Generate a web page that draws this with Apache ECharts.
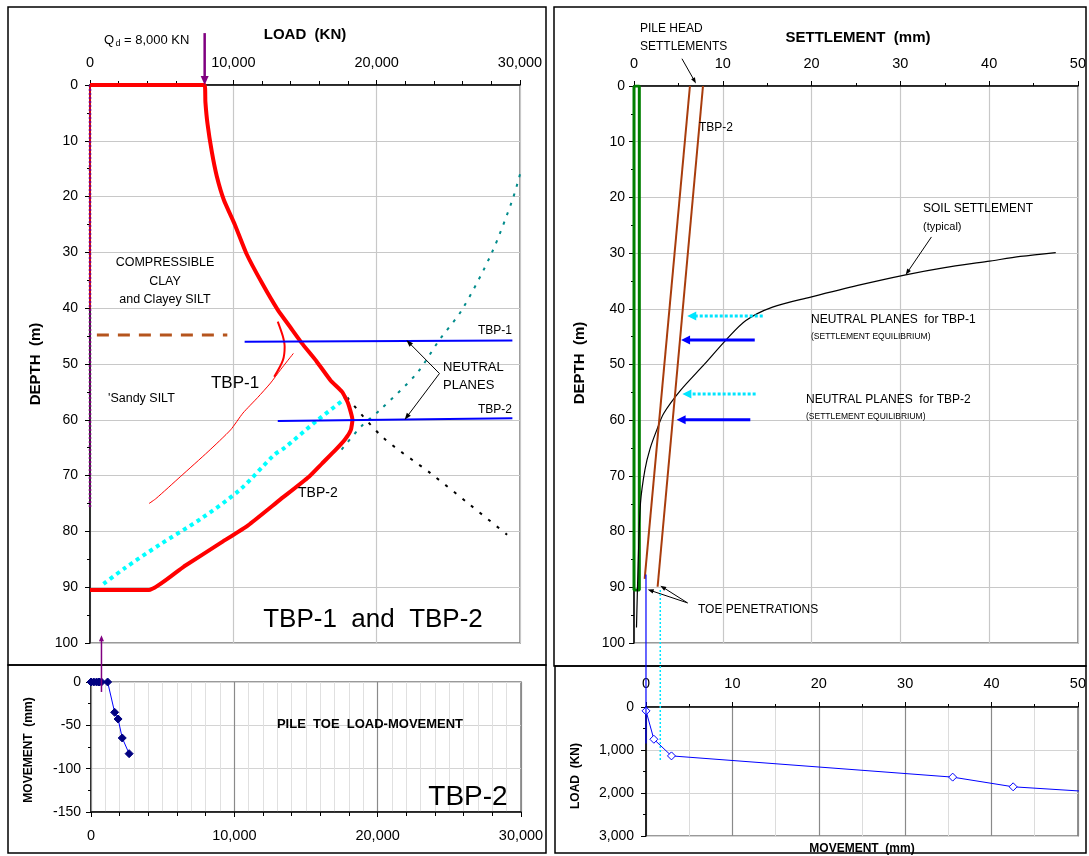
<!DOCTYPE html>
<html>
<head>
<meta charset="utf-8">
<script src="https://cdn.jsdelivr.net/npm/echarts@6.0.0/dist/echarts.min.js"></script>
<style>
html,body{margin:0;padding:0;background:#fff;}
#chart{width:1089px;height:856px;}
</style>
</head>
<body>
<div id="chart"></div>
<script>
// ---------------- DATA ----------------
// Axis ranges [min, max, interval]
const LOAD_AXIS = [0, 30000, 10000];
const DEPTH_AXIS = [0, 100, 10];
const SETTLE_AXIS = [0, 50, 10];
const TOE_MOVE_AXIS = [-150, 0, 50];
const LM_LOAD_AXIS = [0, 3000, 1000];

// Panel A: load (KN) vs depth (m)
const loadDepthTBP2 = [[0,0],[8000,0],[8050,3],[8200,7],[8500,12],[8850,16.4],[9340,20.6],[10100,25],[10910,30.2],[12000,35.5],[13100,40.3],[14000,43.5],[14790,46.3],[15800,49.5],[16800,53],[17590,55],[18000,57],[18310,60],[18200,61.8],[17800,63.5],[17100,65.5],[16200,67.8],[15280,70.2],[13220,74.4],[11030,78.9],[9090,82.1],[6550,86.3],[4120,90.5],[0,90.5]];
const loadDepthTBP1a = [[13100,42.4],[13450,45],[13580,46.9],[13460,49.3],[12850,52.3]];
const loadDepthTBP1b = [[14190,48.1],[13300,51],[12600,53.4],[11700,56],[10670,58.8],[9810,61.8],[8240,65.7],[6300,70.2],[4610,74.1],[4120,75]];
const resistanceTeal = [[30000,16],[29470,20.6],[28010,30.2],[25950,40.3],[24370,45.7],[22790,51.7],[20250,58.2],[18920,61.2],[17500,65.5]];
const resistanceCyan = [[17950,55.9],[15760,60.3],[13580,65],[12850,66.3],[10430,72.6],[7760,77.7],[4850,82.4],[2420,86.6],[845,89.6]];
const resistanceBlack = [[17950,56],[20370,63],[23770,69.6],[26500,75.2],[29100,80.6]];
const zeroRed = [[0,0],[0,40]];
const zeroPurple = [[0,0],[0,75.8]];
const layerBoundary = [[480,44.8],[9580,44.8]];
const neutralPlaneTBP1 = [[10790,46.0],[29470,45.8]];
const neutralPlaneTBP2 = [[13100,60.2],[29470,59.7]];

// Panel B: settlement (mm) vs depth (m)
const pileGreen = [[0,0],[0.6,0],[0.6,90.5],[0,90.5],[0,0]];
const soilSettlement = [[47.5,29.9],[43.5,30.6],[39.8,31.5],[35,32.6],[30.6,33.9],[25.2,35.8],[19.9,37.9],[15.6,39.7],[12.6,42.1],[10.3,45.7],[7.96,49.9],[5.26,54.6],[3.34,58.8],[2.58,61.7],[1.81,65.1],[1.23,68.9],[0.73,74.9],[0.47,85.6],[0.28,97.2]];
const pileHeadA = [[6.3,0],[1.2,88.5]];
const pileHeadB = [[7.77,0],[2.66,89.9]];

// Panel C: pile toe load (KN) vs movement (mm)
const toeLoad = [0,190,390,560,730,1160,1650,1890,2180,2660];
const toeMove = [0,0,0,0,0,0,-35,-42.7,-64.6,-82.7];

// Panel D: movement (mm) vs load (KN)
const lmMovement = [0.0,0.91,2.95,35.5,42.5,50.4];
const lmLoad = [90,750,1137,1631,1856,1956];

// ---------------- CHART ----------------
const FONT = 'Arial, "Liberation Sans", sans-serif';
const chart = echarts.init(document.getElementById('chart'));

function lineSeries(data, xi, yi, color, width, type, extra) {
  return Object.assign({
    type: 'line', xAxisIndex: xi, yAxisIndex: yi, data: data,
    showSymbol: false, symbol: 'none', animation: false, silent: true,
    lineStyle: { color: color, width: width, type: type || 'solid', cap: 'butt' }
  }, extra || {});
}

function valAxis(o) {
  return Object.assign({
    type: 'value',
    axisLine: { show: true, onZero: false, lineStyle: { color: '#000', width: 1.5 } },
    axisTick: { show: true, length: 5, lineStyle: { color: '#000' } },
    minorTick: { show: true, splitNumber: 2, length: 3, lineStyle: { color: '#000' } },
    axisLabel: { color: '#000', fontSize: 14, fontFamily: FONT },
    splitLine: { show: true, lineStyle: { color: '#c8c8c8', width: 1.2 } }
  }, o);
}

const gridStyle = { show: true, borderColor: '#7a7a7a', borderWidth: 1.5, backgroundColor: 'transparent', containLabel: false };

const option = {
  animation: false,
  backgroundColor: '#fff',
  grid: [
    Object.assign({ left: 90, top: 85, width: 430, height: 558 }, gridStyle),
    Object.assign({ left: 634, top: 86, width: 447, height: 557 }, gridStyle),
    Object.assign({ left: 91, top: 682, width: 430, height: 130 }, gridStyle),
    Object.assign({ left: 646, top: 707, width: 435, height: 129 }, gridStyle)
  ],
  xAxis: [
    valAxis({ gridIndex: 0, position: 'top', min: LOAD_AXIS[0], max: LOAD_AXIS[1], interval: LOAD_AXIS[2],
      minorTick: { show: true, splitNumber: 5, length: 4, lineStyle: { color: '#000' } },
      axisLabel: { color: '#000', fontSize: 14.5, fontFamily: FONT, margin: 15 } }),
    valAxis({ gridIndex: 1, position: 'top', min: SETTLE_AXIS[0], max: SETTLE_AXIS[1], interval: SETTLE_AXIS[2],
      axisLabel: { color: '#000', fontSize: 14.5, fontFamily: FONT, margin: 15 } }),
    valAxis({ gridIndex: 2, position: 'bottom', min: LOAD_AXIS[0], max: LOAD_AXIS[1], interval: LOAD_AXIS[2],
      minorTick: { show: true, splitNumber: 5, length: 4, lineStyle: { color: '#000' } },
      splitLine: { show: true, lineStyle: { color: '#8a8a8a', width: 1.2 } }, z: 3,
      axisLabel: { color: '#000', fontSize: 14.5, fontFamily: FONT, margin: 16 } }),
    valAxis({ gridIndex: 3, position: 'top', min: SETTLE_AXIS[0], max: SETTLE_AXIS[1], interval: SETTLE_AXIS[2],
      splitLine: { show: true, lineStyle: { color: '#8a8a8a', width: 1.2 } },
      minorSplitLine: { show: true, lineStyle: { color: '#dcdcdc', width: 1 } },
      axisLabel: { color: '#000', fontSize: 14.5, fontFamily: FONT, margin: 16 } }),
    { type: 'value', gridIndex: 2, position: 'bottom', min: LOAD_AXIS[0], max: LOAD_AXIS[1], interval: 1000,
      axisLine: { show: false }, axisTick: { show: false }, axisLabel: { show: false },
      splitLine: { show: true, lineStyle: { color: '#e0e0e0', width: 1 } }, z: 1 }
  ],
  yAxis: [
    valAxis({ gridIndex: 0, inverse: true, min: DEPTH_AXIS[0], max: DEPTH_AXIS[1], interval: DEPTH_AXIS[2],
      axisLabel: { color: '#000', fontSize: 14, fontFamily: FONT, margin: 12 } }),
    valAxis({ gridIndex: 1, inverse: true, min: DEPTH_AXIS[0], max: DEPTH_AXIS[1], interval: DEPTH_AXIS[2],
      axisLabel: { color: '#000', fontSize: 14, fontFamily: FONT, margin: 9 } }),
    valAxis({ gridIndex: 2, min: TOE_MOVE_AXIS[0], max: TOE_MOVE_AXIS[1], interval: TOE_MOVE_AXIS[2],
      splitLine: { show: true, lineStyle: { color: '#d4d4d4', width: 1.2 } },
      axisLabel: { color: '#000', fontSize: 14, fontFamily: FONT, margin: 10 } }),
    valAxis({ gridIndex: 3, inverse: true, min: LM_LOAD_AXIS[0], max: LM_LOAD_AXIS[1], interval: LM_LOAD_AXIS[2],
      splitLine: { show: true, lineStyle: { color: '#d4d4d4', width: 1.2 } },
      axisLabel: { color: '#000', fontSize: 14, fontFamily: FONT, margin: 12 } })
  ],
  series: [
    // Panel A
    lineSeries(zeroRed, 0, 0, '#ff0000', 1.5),
    lineSeries(zeroPurple, 0, 0, '#800080', 2.5, [2, 2]),
    lineSeries(layerBoundary, 0, 0, '#b5541d', 3, [12, 9]),
    lineSeries(resistanceTeal, 0, 0, '#008b8b', 2, [3, 7], { smooth: 0.3 }),
    lineSeries(resistanceBlack, 0, 0, '#000', 2, [3, 8], { smooth: 0.3 }),
    lineSeries(resistanceCyan, 0, 0, '#00ffff', 4, [4, 4], { smooth: 0.3 }),
    lineSeries(loadDepthTBP1b, 0, 0, '#ff0000', 1, 'solid', { smooth: 0.2 }),
    lineSeries(loadDepthTBP1a, 0, 0, '#ff0000', 2, 'solid', { smooth: 0.3 }),
    lineSeries(loadDepthTBP2, 0, 0, '#ff0000', 4, 'solid', { smooth: 0.15 }),
    lineSeries(neutralPlaneTBP1, 0, 0, '#0000ff', 2),
    lineSeries(neutralPlaneTBP2, 0, 0, '#0000ff', 2),
    // Panel B
    lineSeries(pileGreen, 1, 1, '#008000', 3),
    lineSeries(soilSettlement, 1, 1, '#000', 1.2, 'solid', { smooth: 0.3 }),
    lineSeries(pileHeadA, 1, 1, '#a83c0c', 2),
    lineSeries(pileHeadB, 1, 1, '#a83c0c', 2),
    // Panel C
    { type: 'line', xAxisIndex: 2, yAxisIndex: 2, animation: false, silent: true,
      data: toeLoad.map((v, i) => [v, toeMove[i]]),
      symbol: 'diamond', symbolSize: 8, showSymbol: true,
      itemStyle: { color: '#000080', borderColor: '#000080' },
      lineStyle: { color: '#0000ff', width: 1 }, z: 5 },
    // Panel D
    { type: 'line', xAxisIndex: 3, yAxisIndex: 3, animation: false, silent: true,
      data: lmMovement.map((v, i) => (i === lmMovement.length - 1 ? { value: [v, lmLoad[i]], symbol: 'none' } : [v, lmLoad[i]])),
      symbol: 'diamond', symbolSize: 8, showSymbol: true,
      itemStyle: { color: '#fff', borderColor: '#0000ff', borderWidth: 1 },
      lineStyle: { color: '#0000ff', width: 1 }, z: 5 }
  ]
};
chart.setOption(option);

// ---------------- ANNOTATIONS ----------------
function px(xi, yi, p) { return chart.convertToPixel({ xAxisIndex: xi, yAxisIndex: yi }, p); }
function arrow(p1, p2, color, width, dash, head, headW) {
  const els = [];
  const dx = p2[0] - p1[0], dy = p2[1] - p1[1];
  const len = Math.hypot(dx, dy) || 1;
  const ux = dx / len, uy = dy / len;
  const bx = p2[0] - ux * head, by = p2[1] - uy * head;
  els.push({ type: 'line', silent: true, z: 100,
    shape: { x1: p1[0], y1: p1[1], x2: head > 0 ? bx + ux : p2[0], y2: head > 0 ? by + uy : p2[1] },
    style: { stroke: color, lineWidth: width, lineDash: dash || null } });
  if (head > 0) {
    els.push({ type: 'polygon', silent: true, z: 100,
      shape: { points: [[p2[0], p2[1]], [bx - uy * headW, by + ux * headW], [bx + uy * headW, by - ux * headW]] },
      style: { fill: color } });
  }
  return els;
}
function txt(x, y, s, size, opts) {
  opts = opts || {};
  return { type: 'text', x: x, y: y, rotation: opts.rot || 0, silent: true, z: 110,
    style: { text: s, fill: opts.color || '#000',
      font: (opts.bold ? 'bold ' : '') + size + 'px ' + FONT,
      textAlign: opts.align || 'left', textVerticalAlign: 'middle' } };
}

let G = [];
// Frames
[[8, 7, 538, 658], [8, 665, 538, 188], [554, 7, 532, 659], [555, 666, 531, 187]].forEach(r => {
  G.push({ type: 'rect', silent: true, z: 90, shape: { x: r[0], y: r[1], width: r[2], height: r[3] },
    style: { fill: 'none', stroke: '#000', lineWidth: 1.5 } });
});

// Panel A arrows
G = G.concat(arrow(px(0, 0, [8000, -9.3]), px(0, 0, [8000, 0]), '#800080', 2.5, null, 9, 4));
const np = px(0, 0, [24380, 51.7]);
G = G.concat(arrow(np, px(0, 0, [22070, 45.7]), '#000', 1, null, 7, 2.5));
G = G.concat(arrow(np, px(0, 0, [21950, 60.0]), '#000', 1, null, 7, 2.5));
// purple toe arrow (crosses panels)
const pTop = px(0, 0, [800, 98.6]);
const pBot = px(2, 2, [800, -11.5]);
G = G.concat(arrow([pTop[0], pBot[1]], pTop, '#800080', 1.5, null, 6, 2.5));

// Panel B arrows
G = G.concat(arrow(px(1, 1, [5.4, -4.9]), px(1, 1, [6.98, -0.45]), '#000', 1, null, 6, 2.2));
G = G.concat(arrow(px(1, 1, [33.5, 27.1]), px(1, 1, [30.6, 33.9]), '#000', 1, null, 6, 2.2));
const tp = px(1, 1, [6.03, 92.8]);
G = G.concat(arrow(tp, px(1, 1, [1.54, 90.4]), '#000', 1, null, 6, 2.2));
G = G.concat(arrow(tp, px(1, 1, [2.96, 89.7]), '#000', 1, null, 6, 2.2));
G = G.concat(arrow(px(1, 1, [14.5, 41.3]), px(1, 1, [6.0, 41.3]), '#00e5ff', 3, [3, 2], 9, 4.5));
G = G.concat(arrow(px(1, 1, [13.6, 45.6]), px(1, 1, [5.3, 45.6]), '#0000ff', 3, null, 9, 4.5));
G = G.concat(arrow(px(1, 1, [13.7, 55.3]), px(1, 1, [5.45, 55.3]), '#00e5ff', 3, [3, 2], 9, 4.5));
G = G.concat(arrow(px(1, 1, [13.1, 59.9]), px(1, 1, [4.8, 59.9]), '#0000ff', 3, null, 9, 4.5));
// vertical toe lines crossing into panel D
const bTop = px(1, 1, [1.35, 87.7]);
const bBot = px(3, 3, [0.08, 850]);
G = G.concat(arrow(bTop, [bTop[0], bBot[1]], '#0000ff', 1.2, null, 0, 0));
const cTop = px(1, 1, [2.96, 90.5]);
const cBot = px(3, 3, [1.66, 1237]);
G = G.concat(arrow(cTop, [cTop[0], cBot[1]], '#00e5ff', 1.5, [2, 2], 0, 0));

// Texts panel A
G.push(txt(305, 35, 'LOAD  (KN)', 15, { bold: true, align: 'center' }));
G.push(txt(104, 40, 'Q', 13));
G.push(txt(115.5, 44, 'd', 9));
G.push(txt(124, 40, '= 8,000 KN', 13));
G.push(txt(165, 263, 'COMPRESSIBLE', 12.5, { align: 'center' }));
G.push(txt(165, 282, 'CLAY', 12.5, { align: 'center' }));
G.push(txt(165, 300, 'and Clayey SILT', 12.5, { align: 'center' }));
G.push(txt(108, 399, "'Sandy SILT", 12.5));
G.push(txt(235, 383, 'TBP-1', 17, { align: 'center' }));
G.push(txt(298, 493, 'TBP-2', 14));
G.push(txt(512, 331, 'TBP-1', 12, { align: 'right' }));
G.push(txt(512, 410, 'TBP-2', 12, { align: 'right' }));
G.push(txt(443, 367, 'NEUTRAL', 13));
G.push(txt(443, 385, 'PLANES', 13));
G.push(txt(373, 620, 'TBP-1  and  TBP-2', 26, { align: 'center' }));
G.push(txt(36, 364, 'DEPTH  (m)', 15, { bold: true, align: 'center', rot: Math.PI / 2 }));

// Texts panel B
G.push(txt(858, 38, 'SETTLEMENT  (mm)', 15, { bold: true, align: 'center' }));
G.push(txt(640, 29, 'PILE HEAD', 12));
G.push(txt(640, 47, 'SETTLEMENTS', 12));
G.push(txt(699, 128, 'TBP-2', 12));
G.push(txt(923, 209, 'SOIL SETTLEMENT', 12));
G.push(txt(923, 227, '(typical)', 11));
G.push(txt(811, 320, 'NEUTRAL PLANES  for TBP-1', 12));
G.push(txt(811, 337, '(SETTLEMENT EQUILIBRIUM)', 8.5));
G.push(txt(806, 400, 'NEUTRAL PLANES  for TBP-2', 12));
G.push(txt(806, 417, '(SETTLEMENT EQUILIBRIUM)', 8.5));
G.push(txt(698, 610, 'TOE PENETRATIONS', 12));
G.push(txt(580, 363, 'DEPTH  (m)', 15, { bold: true, align: 'center', rot: Math.PI / 2 }));

// Texts panel C
G.push(txt(370, 724, 'PILE  TOE  LOAD-MOVEMENT', 13, { bold: true, align: 'center' }));
G.push(txt(468, 797, 'TBP-2', 28, { align: 'center' }));
G.push(txt(29, 750, 'MOVEMENT  (mm)', 12, { bold: true, align: 'center', rot: Math.PI / 2 }));

// Texts panel D
G.push(txt(576, 776, 'LOAD  (KN)', 12, { bold: true, align: 'center', rot: Math.PI / 2 }));
G.push(txt(862, 849, 'MOVEMENT  (mm)', 12, { bold: true, align: 'center' }));

chart.setOption({ graphic: { elements: G } });
</script>
</body>
</html>
